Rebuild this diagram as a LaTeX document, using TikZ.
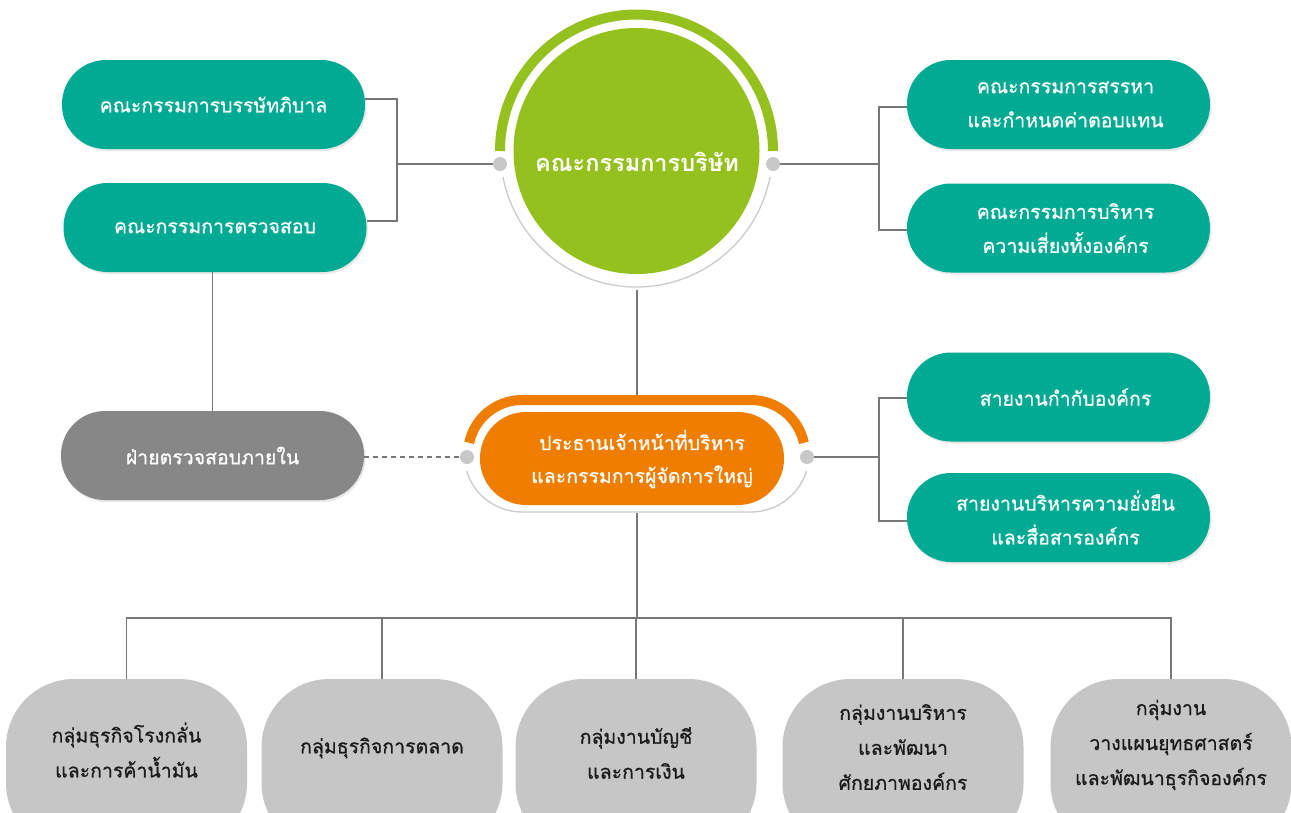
\documentclass[tikz,border=0pt]{standalone}
\usepackage{fontspec}
\newfontfamily\thai[Script=Thai,FakeBold=0.7]{Loma}
\newfontfamily\thaibold[Script=Thai]{Loma Bold}
\usetikzlibrary{shadows,calc}
\definecolor{tealc}{HTML}{00AA93}
\definecolor{greenc}{HTML}{95C11F}
\definecolor{orangec}{HTML}{EF7D00}
\definecolor{auditc}{HTML}{878787}
\definecolor{groupc}{HTML}{C6C6C6}
\definecolor{dotc}{HTML}{C8C8C8}
\definecolor{ringc}{HTML}{CBCBCB}
\definecolor{connc}{HTML}{777777}
\definecolor{textc}{HTML}{1A1A1A}
\tikzset{
  pill/.style={rectangle, rounded corners=44pt, minimum width=303pt, minimum height=89pt,
    inner sep=0pt, align=center, text=white, font=\thai\fontsize{19.5}{34}\selectfont,
    drop shadow={opacity=0.18, shadow xshift=1.5pt, shadow yshift=-2pt}},
  tealbox/.style={pill, fill=tealc},
  auditbox/.style={pill, fill=auditc},
  groupbox/.style={rectangle, rounded corners=68pt, minimum width=241pt, minimum height=172pt,
    inner sep=0pt, fill=groupc},
  grouptext/.style={align=center, text=textc, inner sep=0pt, font=\thai\fontsize{19.5}{35}\selectfont},
  dot/.style={circle, fill=dotc, minimum size=14pt, inner sep=0pt},
  conn/.style={draw=connc, line width=1.3pt},
}
\begin{document}
\begin{tikzpicture}[x=1pt,y=-1pt]
\useasboundingbox (0,0) rectangle (1291,812);
\clip (0,0) rectangle (1291,812);
\fill[white] (0,0) rectangle (1291,812);

% ---- board circle ----
\coordinate (C) at (636.5,151);
\draw[greenc, line width=10pt] (C) ++(0:136.5pt) arc[start angle=0, end angle=180, radius=136.5pt];
\draw[ringc, line width=1.3pt] (C) ++(191:136pt) arc[start angle=191, end angle=349, radius=136pt];
\node[circle, fill=greenc, minimum size=246pt, inner sep=0pt] (board) at (C) {};
\node[text=white, font=\thaibold\fontsize{23.5}{28}\selectfont] (boardtxt) at (637,162) {คณะกรรมการบริษัท};
\node[dot] (d1) at (500,164) {};
\node[dot] (d2) at (773,164) {};
\coordinate (boardbot) at (637,290);

% ---- CEO node ----
\coordinate (Lc) at (522,454);
\coordinate (Rc) at (751,454);
\draw[orangec, line width=10pt] (Lc) ++(168:54pt) arc[start angle=168, end angle=90, radius=54pt]
   -- ($(Rc)+(0,-54)$) arc[start angle=90, end angle=12, radius=54pt];
\draw[ringc, line width=1.3pt] (Lc) ++(197:58pt) arc[start angle=197, end angle=270, radius=58pt]
   -- ($(Rc)+(0,58)$) arc[start angle=270, end angle=343, radius=58pt];
\node[rectangle, rounded corners=46pt, fill=orangec, minimum width=304pt, minimum height=93pt, inner sep=0pt] (ceo) at (632,458.5) {};
\node[text=white, align=center, font=\thai\fontsize{19.5}{33}\selectfont] (ceotxt) at (642,459) {ประธานเจ้าหน้าที่บริหาร\\และกรรมการผู้จัดการใหญ่};
\node[dot] (d3) at (467,457) {};
\node[dot] (d4) at (807,457) {};
\coordinate (ceotop) at (637,395);
\coordinate (ceobot) at (637,513);

% ---- committees ----
\node[tealbox] (b1) at (213.5,104.5) {คณะกรรมการบรรษัทภิบาล};
\node[tealbox] (b2) at (215,227.5) {คณะกรรมการตรวจสอบ};
\node[auditbox] (audit) at (212.5,455.5) {ฝ่ายตรวจสอบภายใน};
\node[tealbox] (rA) at (1058.5,104.5) {\hspace*{14pt}คณะกรรมการสรรหา\\\hspace*{14pt}และกำหนดค่าตอบแทน};
\node[tealbox] (rB) at (1058.5,228) {\hspace*{14pt}คณะกรรมการบริหาร\\\hspace*{14pt}ความเสี่ยงทั้งองค์กร};
\node[tealbox] (rC) at (1058.5,397) {\hspace*{14pt}สายงานกำกับองค์กร};
\node[tealbox] (rD) at (1058.5,517.5) {\hspace*{14pt}สายงานบริหารความยั่งยืน\\\hspace*{14pt}และสื่อสารองค์กร};

% ---- groups ----
\node[groupbox] (g1) at (126.5,765) {};
\node[groupbox] (g2) at (382,765) {};
\node[groupbox] (g3) at (636,765) {};
\node[groupbox] (g4) at (903,765) {};
\node[groupbox] (g5) at (1171,765) {};
\node[grouptext] (t1) at (126.5,750) {กลุ่มธุรกิจโรงกลั่น\\และการค้าน้ำมัน};
\node[grouptext] (t2) at (382,748) {กลุ่มธุรกิจการตลาด};
\node[grouptext] (t3) at (636,753) {กลุ่มงานบัญชี\\และการเงิน};
\node[grouptext] (t4) at (903,747) {กลุ่มงานบริหาร\\และพัฒนา\\ศักยภาพองค์กร};
\node[grouptext] (t5) at (1171,745) {กลุ่มงาน\\วางแผนยุทธศาสตร์\\และพัฒนาธุรกิจองค์กร};

% ---- connectors ----
\coordinate (jL) at (397,164);
\coordinate (jR) at (879,164);
\coordinate (jR2) at (879,457);
\coordinate (bus) at (637,618);
\draw[conn] ([yshift=5.5pt]b1.east) -| (jL) |- ([yshift=6.5pt]b2.east);
\draw[conn] (jL) -- (d1);
\draw[conn] ([yshift=-2.5pt]rA.west) -| (jR) |- ([yshift=-2pt]rB.west);
\draw[conn] (d2) -- (jR);
\draw[conn] ([yshift=-1pt]rC.west) -| (jR2) |- ([yshift=-3.5pt]rD.west);
\draw[conn] (d4) -- (jR2);
\draw[conn] (audit.north) -- (audit.north |- b2.south);
\draw[conn, dashed, dash pattern=on 5pt off 4pt] (audit.east |- d3) -- (d3);
\draw[conn] (boardbot) -- (ceotop);
\draw[conn] (ceobot) -- (bus);
\draw[conn] (g1.north) |- (bus) -| (g5.north);
\draw[conn] (g2.north) -- (g2.north |- bus);
\draw[conn] (g3.north) -- (g3.north |- bus);
\draw[conn] (g4.north) -- (g4.north |- bus);
\end{tikzpicture}
\end{document}
